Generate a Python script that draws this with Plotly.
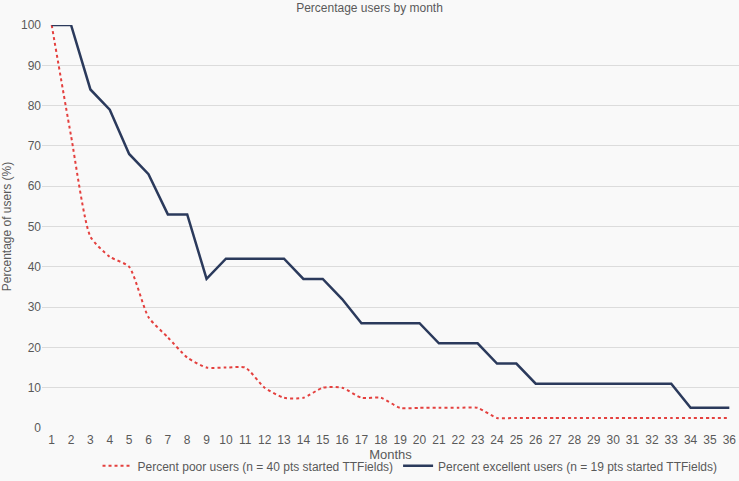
import plotly.graph_objects as go

months = list(range(1, 37))
poor_users = [100, 72.5, 47.5, 42.5, 40, 27.5, 22.5, 17.5, 15, 15, 15, 10, 7.5, 7.5, 10, 10,
              7.5, 7.5, 5, 5, 5, 5, 5, 2.5, 2.5, 2.5, 2.5, 2.5, 2.5, 2.5, 2.5, 2.5, 2.5, 2.5, 2.5, 2.5]
excellent_users = [100, 100, 84, 79, 68, 63, 53, 53, 37, 42, 42, 42, 42, 37, 37, 32,
                   26, 26, 26, 26, 21, 21, 21, 16, 16, 11, 11, 11, 11, 11, 11, 11, 11, 5, 5, 5]
y_ticks = [0, 10, 20, 30, 40, 50, 60, 70, 80, 90, 100]

fig = go.Figure()
fig.add_trace(go.Scatter(
    x=months, y=poor_users, mode="lines",
    name="Percent poor users (n = 40 pts started TTFields)",
    line=dict(color="#e4403e", width=2, dash="dot", shape="spline", smoothing=0.6),
))
fig.add_trace(go.Scatter(
    x=months, y=excellent_users, mode="lines",
    name="Percent excellent users (n = 19 pts started TTFields)",
    line=dict(color="#2b3a5c", width=2.5),
))

fig.update_layout(
    width=739, height=481,
    paper_bgcolor="#f9f9f9", plot_bgcolor="#f9f9f9",
    margin=dict(l=42, r=0, t=25, b=53, autoexpand=False),
    font=dict(family="Liberation Sans, Arial, sans-serif", color="#595959", size=12),
    title=dict(text="Percentage users by month", x=0.5, xanchor="center", y=0.983, yanchor="middle",
               font=dict(size=12, color="#595959")),
    showlegend=True,
    legend=dict(orientation="h", x=0.528, xanchor="center", y=-0.058, yanchor="top",
                font=dict(size=12, color="#595959"), bgcolor="rgba(0,0,0,0)",
                tracegroupgap=0),
    xaxis=dict(
        range=[0.5, 36.5], tickmode="array", tickvals=months, ticktext=[str(m) for m in months],
        showgrid=False, zeroline=False, showline=False, ticks="", automargin=False,
        ticklabelstandoff=3,
        tickfont=dict(size=12, color="#595959"),
        title=dict(text="Months", font=dict(size=13, color="#595959"), standoff=2),
    ),
    yaxis=dict(
        range=[0, 100], tickvals=y_ticks, showgrid=True, gridcolor="#dcdcdc", gridwidth=1,
        zeroline=False, showline=False, ticks="", automargin=False,
        tickfont=dict(size=12, color="#595959"),
        title=dict(text="Percentage of users (%)", font=dict(size=12, color="#595959")),
    ),
)

fig.write_html("out.html", config={"displayModeBar": False},
               post_script="document.body.style.margin='0';")
